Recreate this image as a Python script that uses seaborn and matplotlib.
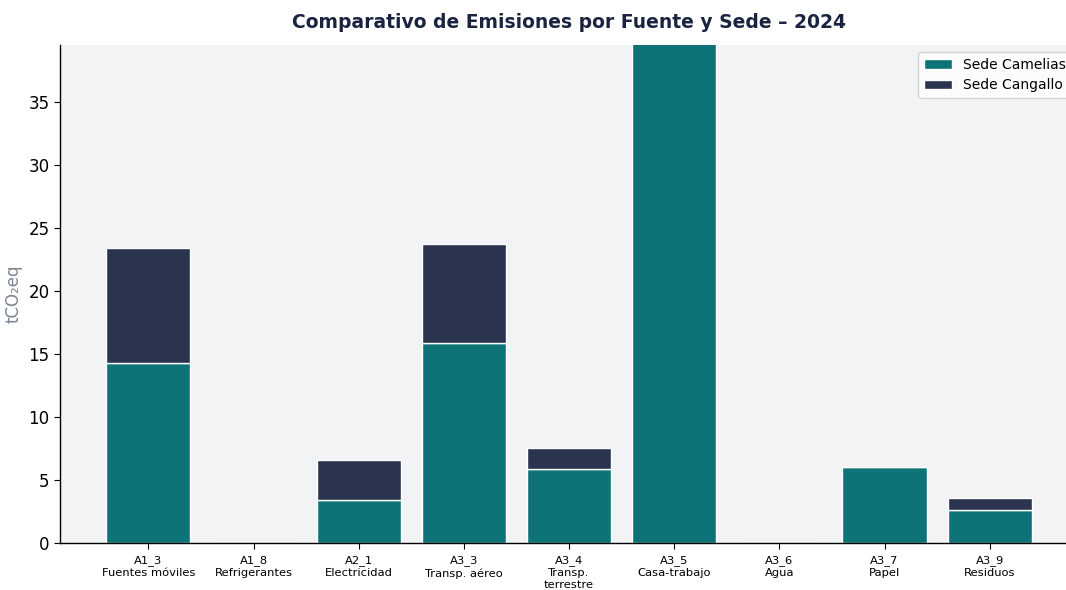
import numpy as np
import pandas as pd
import matplotlib
matplotlib.use("Agg")
import matplotlib.pyplot as plt
import seaborn as sns

# --------------------------------
# Data (tCO2eq per source and site)
# --------------------------------
codigos = ["A1_3", "A1_8", "A2_1", "A3_3", "A3_4", "A3_5", "A3_6", "A3_7", "A3_9"]
fuentes = ["Fuentes móviles", "Refrigerantes", "Electricidad", "Transp. aéreo",
           "Transp.\nterrestre", "Casa-trabajo", "Agua", "Papel", "Residuos"]
camelias = [14.3, 0.0, 3.4, 15.9, 5.9, 45.0, 0.0, 6.0, 2.6]
cangallo = [9.1, 0.0, 3.2, 7.8, 1.6, 0.0, 0.0, 0.0, 0.95]

etiquetas = [f"{c}\n{f}" for c, f in zip(codigos, fuentes)]
df = pd.DataFrame({"fuente": etiquetas, "Camelias": camelias, "Cangallo": cangallo})

col_camelias = "#0e7377"
col_cangallo = "#2a344f"

# --------------------------------
# Plot
# --------------------------------
sns.set_style("white")
plt.rcParams["font.family"] = ["DejaVu Sans"]
plt.rcParams["text.color"] = "black"
plt.rcParams["xtick.color"] = "black"
plt.rcParams["ytick.color"] = "black"

fig = plt.figure(figsize=(10.66, 5.9), dpi=100)
ax = fig.add_axes([0.0563, 0.0797, 0.955, 0.844])
ax.set_facecolor("#f2f3f5")

sns.barplot(data=df, x="fuente", y="Camelias", color=col_camelias, width=0.8,
            saturation=1, edgecolor="white", linewidth=1, label="Sede Camelias", ax=ax)
x = np.arange(len(df))
ax.bar(x, df["Cangallo"], bottom=df["Camelias"], width=0.8, color=col_cangallo,
       edgecolor="white", linewidth=1, label="Sede Cangallo")

ax.set_xlim(-0.84, len(df) - 1 + 0.84)
ax.set_ylim(0, 39.5)
ax.set_yticks(np.arange(0, 40, 5))
ax.tick_params(axis="y", labelsize=12, length=4, left=True)
ax.tick_params(axis="x", labelsize=8.25, length=4, pad=4.5, bottom=True)
for lbl in ax.get_xticklabels():
    lbl.set_linespacing(1.3)

ax.set_xlabel("")
ax.set_ylabel("tCO₂eq", fontsize=12, color="#7a8593")
ax.set_title("Comparativo de Emisiones por Fuente y Sede – 2024",
             fontsize=13.5, fontweight="bold", color="#1a2340", pad=12)

for s in ["top", "right"]:
    ax.spines[s].set_visible(False)
for s in ["left", "bottom"]:
    ax.spines[s].set_color("black")
    ax.spines[s].set_linewidth(1)

ax.legend(loc="upper right", fontsize=10, frameon=True, facecolor="white", edgecolor="#cccccc")

plt.savefig("out.png", dpi=100)
